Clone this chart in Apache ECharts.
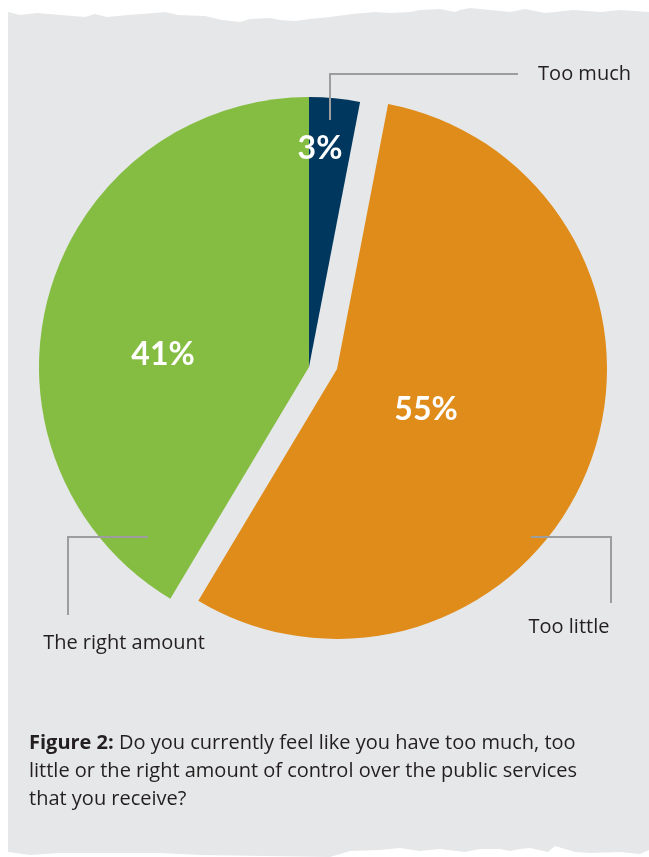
<!DOCTYPE html>
<html>
<head>
<meta charset="utf-8">
<script src="https://cdn.jsdelivr.net/npm/echarts@6/dist/echarts.min.js"></script>
<style>
html, body { margin: 0; padding: 0; background: #fff; }
#chart { width: 649px; height: 857px; }
</style>
</head>
<body>
<div id="chart"></div>
<script>
// survey answers, in drawing order (clockwise from 12 o'clock)
const categories = ['Too much', 'Too little', 'The right amount'];
const shares = [3, 55, 41];

const sliceColors = ['#00375f', '#df8c1a', '#85bd43'];
const explodedIndex = 1;

const captionBold = 'Figure 2:';
const captionLines = [
	' Do you currently feel like you have too much, too',
	'little or the right amount of control over the public services',
	'that you receive?'
];

// where the labels sit on the page
let pctLabelPos = [[320, 149], [426, 410], [163, 355]];
let nameLabelPos = [
	{ x: 631, y: 74, align: 'right' },
	{ x: 569, y: 627, align: 'center' },
	{ x: 124, y: 643, align: 'center' }
];
let leaderLines = [
	[[330, 120], [330, 74], [518, 74]],
	[[531, 537], [611, 537], [611, 603]],
	[[148, 537], [68, 537], [68, 615]]
];

// torn paper outline
let topEdge = [[8,12],[20,15],[37,13],[85,17],[95,14],[107,17],[128,15],[155,13],[165,12],[178,15],[205,16],[222,20],[240,22],[250,19],[270,18],[280,20],[295,21],[310,19],[330,17],[352,14],[375,12],[390,13],[410,12],[420,10],[440,9],[455,12],[460,10],[470,8],[480,9],[500,11],[510,12],[525,9],[545,13],[555,12],[573,10],[600,12],[620,10],[649,12]];
let bottomEdge = [[649,850],[640,854],[620,852],[590,853],[575,852],[555,846],[548,852],[530,848],[520,849],[510,851],[500,849],[480,849],[465,852],[440,849],[420,851],[400,848],[380,850],[350,851],[330,857],[200,855],[160,853],[60,853],[30,855],[8,852]];

let textFont = 'Open Sans';

let dom = document.getElementById('chart');
let myChart = echarts.init(dom);

function pieData(showIndex) {
	return categories.map((name, i) => {
		let visible = showIndex(i);
		return {
			name: name,
			value: shares[i],
			itemStyle: { color: visible ? sliceColors[i] : 'transparent' },
			label: { show: visible }
		};
	});
}

let pctLabel = {
	position: 'inside',
	formatter: '{c}%',
	color: '#fff',
	fontFamily: 'Lato',
	fontWeight: 'bold',
	fontSize: 32
};

function pctLayout(params) {
	let p = pctLabelPos[params.dataIndex];
	return { x: p[0], y: p[1], align: 'center', verticalAlign: 'middle' };
}

let option = {
	animation: false,
	backgroundColor: '#fff',
	graphic: [{
		type: 'polygon',
		z: -10,
		silent: true,
		shape: { points: topEdge.concat(bottomEdge) },
		style: { fill: '#e6e7e8' }
	}],
	title: {
		left: 29,
		top: 729,
		padding: 0,
		text: '{b|' + captionBold + '}' + captionLines.join('\n'),
		textStyle: {
			fontFamily: textFont,
			fontSize: 20,
			fontWeight: 'normal',
			color: '#231f20',
			lineHeight: 28,
			rich: {
				b: { fontFamily: textFont, fontSize: 20, fontWeight: 'bold', color: '#231f20', lineHeight: 28 }
			}
		}
	},
	series: [
		{
			name: 'main',
			type: 'pie',
			center: [309, 367],
			radius: 270,
			startAngle: 90,
			silent: true,
			label: pctLabel,
			labelLine: { show: false },
			labelLayout: pctLayout,
			data: pieData(i => i != explodedIndex)
		},
		{
			name: 'exploded',
			type: 'pie',
			center: [337, 369],
			radius: 270,
			startAngle: 90,
			silent: true,
			label: pctLabel,
			labelLine: { show: false },
			labelLayout: pctLayout,
			data: pieData(i => i == explodedIndex)
		},
		{
			name: 'names',
			type: 'pie',
			center: [309, 367],
			radius: 270,
			startAngle: 90,
			silent: true,
			z: 3,
			minShowLabelAngle: 0,
			avoidLabelOverlap: false,
			itemStyle: { color: 'transparent' },
			label: {
				show: true,
				position: 'outside',
				formatter: '{b}',
				overflow: 'none',
				color: '#231f20',
				fontFamily: textFont,
				fontSize: 20
			},
			labelLine: {
				show: true,
				smooth: false,
				lineStyle: { color: '#9d9d9d', width: 2 }
			},
			labelLayout: function(params) {
				let p = nameLabelPos[params.dataIndex];
				return {
					x: p.x,
					y: p.y,
					align: p.align,
					verticalAlign: 'middle',
					hideOverlap: false,
					labelLinePoints: leaderLines[params.dataIndex]
				};
			},
			data: categories.map((name, i) => ({ name: name, value: shares[i] }))
		}
	]
};

if (option && typeof option === 'object') {
	myChart.setOption(option);
}
</script>
</body>
</html>
